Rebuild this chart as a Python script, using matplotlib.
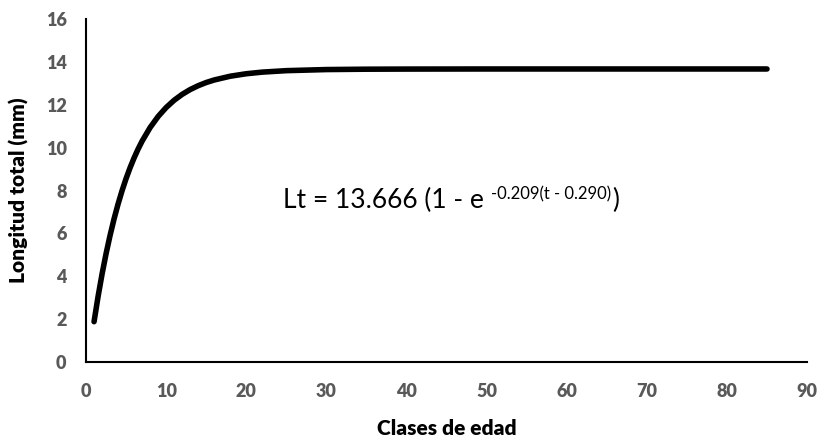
import matplotlib
matplotlib.use('Agg')
import matplotlib.pyplot as plt

# Mean total length by age class (von Bertalanffy fit)
ages = [1, 1.5, 2, 2.5, 3, 3.5, 4, 4.5, 5, 5.5, 6, 6.5, 7, 8, 9, 10, 11, 12, 13, 14,
        15, 16, 18, 20, 22, 25, 30, 35, 40, 50, 60, 70, 85]
lengths = [1.885, 3.053, 4.107, 5.055, 5.909, 6.680, 7.373, 7.997, 8.559, 9.066, 9.522,
           9.934, 10.304, 10.938, 11.452, 11.870, 12.209, 12.484, 12.707, 12.887,
           13.035, 13.153, 13.329, 13.444, 13.520, 13.588, 13.639, 13.656, 13.662,
           13.666, 13.666, 13.666, 13.666]

x_ticks = [0, 10, 20, 30, 40, 50, 60, 70, 80, 90]
y_ticks = [0, 2, 4, 6, 8, 10, 12, 14, 16]

plt.rcParams['font.family'] = ['Lato', 'DejaVu Sans']

fig = plt.figure(figsize=(8.21, 4.40), dpi=100)
ax = fig.add_axes([0.1048, 0.177, 0.8782, 0.780])

ax.plot(ages, lengths, color='black', linewidth=4.0, solid_capstyle='round',
        solid_joinstyle='round', zorder=3)

ax.set_xlim(0, 90)
ax.set_ylim(0, 16)
ax.set_xticks(x_ticks)
ax.set_yticks(y_ticks)

for side in ['top', 'right']:
    ax.spines[side].set_visible(False)
for side in ['left', 'bottom']:
    ax.spines[side].set_color('black')
    ax.spines[side].set_linewidth(1.5)

ax.tick_params(length=0, labelsize=13, labelcolor='#595959')
ax.tick_params(axis='y', pad=14)
ax.tick_params(axis='x', pad=15)
for lab in ax.get_xticklabels() + ax.get_yticklabels():
    lab.set_fontweight('heavy')

ax.set_xlabel('Clases de edad', fontsize=15, fontweight='heavy', labelpad=14)
ax.set_ylabel('Longitud total (mm)', fontsize=15, fontweight='heavy', labelpad=12)

# fitted growth equation: base text, superscript exponent, closing bracket
base_y = 7.18
t1 = ax.text(24.6, base_y, 'Lt = 13.666 (1 - e', fontsize=19, va='baseline', ha='left')
t2 = ax.annotate('-0.209(t - 0.290)', xy=(1, base_y), xycoords=(t1, 'data'),
                 xytext=(7, 9), textcoords='offset pixels', fontsize=12,
                 va='baseline', ha='left')
t3 = ax.annotate(')', xy=(1, base_y), xycoords=(t2, 'data'),
                 xytext=(1, 0), textcoords='offset pixels', fontsize=19,
                 va='baseline', ha='left')

fig.savefig('out.png', dpi=100)
